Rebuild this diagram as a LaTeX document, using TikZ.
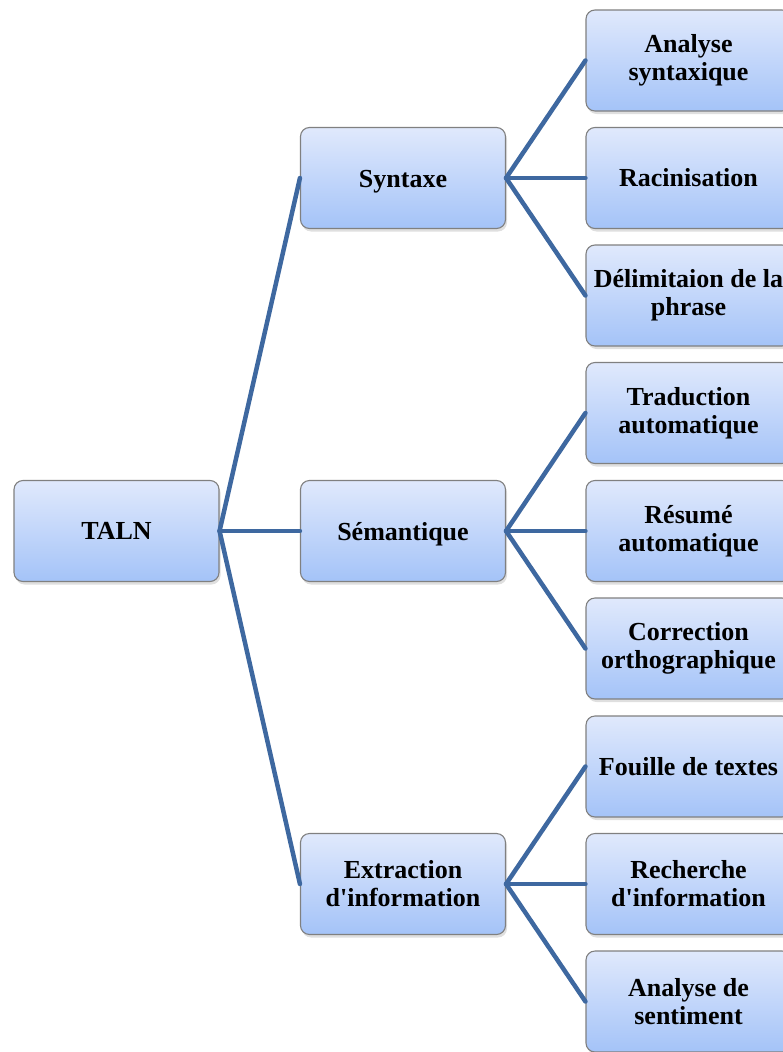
\documentclass[tikz,border=0pt]{standalone}
\usepackage{fontspec}
\setmainfont{Liberation Serif}
\usetikzlibrary{shadows}
\definecolor{boxtop}{RGB}{224,233,252}
\definecolor{boxbot}{RGB}{164,195,248}
\definecolor{boxline}{RGB}{128,128,128}
\definecolor{link}{RGB}{62,104,160}
\newcommand{\ap}{\textquotesingle}
% lower a label without changing the box it occupies
\newcommand{\lowered}[2]{\raisebox{-#1}[\height][\depth]{#2}}
\tikzset{
  topic/.style={rectangle, rounded corners=9pt, draw=boxline, line width=1.1pt,
    top color=boxtop, bottom color=boxbot,
    minimum width=205pt, minimum height=101pt, inner sep=2pt,
    align=center, font=\bfseries\fontsize{26}{28}\selectfont,
    drop shadow={shadow xshift=1.5pt, shadow yshift=-3pt, opacity=0.25}},
  branch/.style={draw=link, line width=4.5pt, line cap=round, line join=round}
}
\begin{document}
\begin{tikzpicture}[x=1pt, y=-1pt]
\useasboundingbox (0,0) rectangle (783,1052);
\clip (0,0) rectangle (783,1052);
% root
\node[topic] (taln) at (116.5,531) {TALN};
% second level
\node[topic] (syn) at (403,178) {\lowered{4pt}{Syntaxe}};
\node[topic] (sem) at (403,531) {\lowered{3pt}{Sémantique}};
\node[topic] (ext) at (403,884) {Extraction\\d\ap information};
% third level
\node[topic] (a1) at (688.5,60.5) {Analyse\\syntaxique};
\node[topic] (a2) at (688.5,178) {Racinisation};
\node[topic] (a3) at (688.5,295.5) {Délimitaion de la\\phrase};
\node[topic] (b1) at (688.5,413) {Traduction\\automatique};
\node[topic] (b2) at (688.5,531) {Résumé\\automatique};
\node[topic] (b3) at (688.5,648.5) {Correction\\orthographique};
\node[topic] (c1) at (688.5,766.5) {Fouille de textes};
\node[topic] (c2) at (688.5,884) {Recherche\\d\ap information};
\node[topic] (c3) at (688.5,1001.5) {Analyse de\\sentiment};
% connectors
\foreach \p/\c in {taln/syn, taln/sem, taln/ext,
                   syn/a1, syn/a2, syn/a3,
                   sem/b1, sem/b2, sem/b3,
                   ext/c1, ext/c2, ext/c3}
  \draw[branch] (\p.east) -- (\c.west);
\end{tikzpicture}
\end{document}
